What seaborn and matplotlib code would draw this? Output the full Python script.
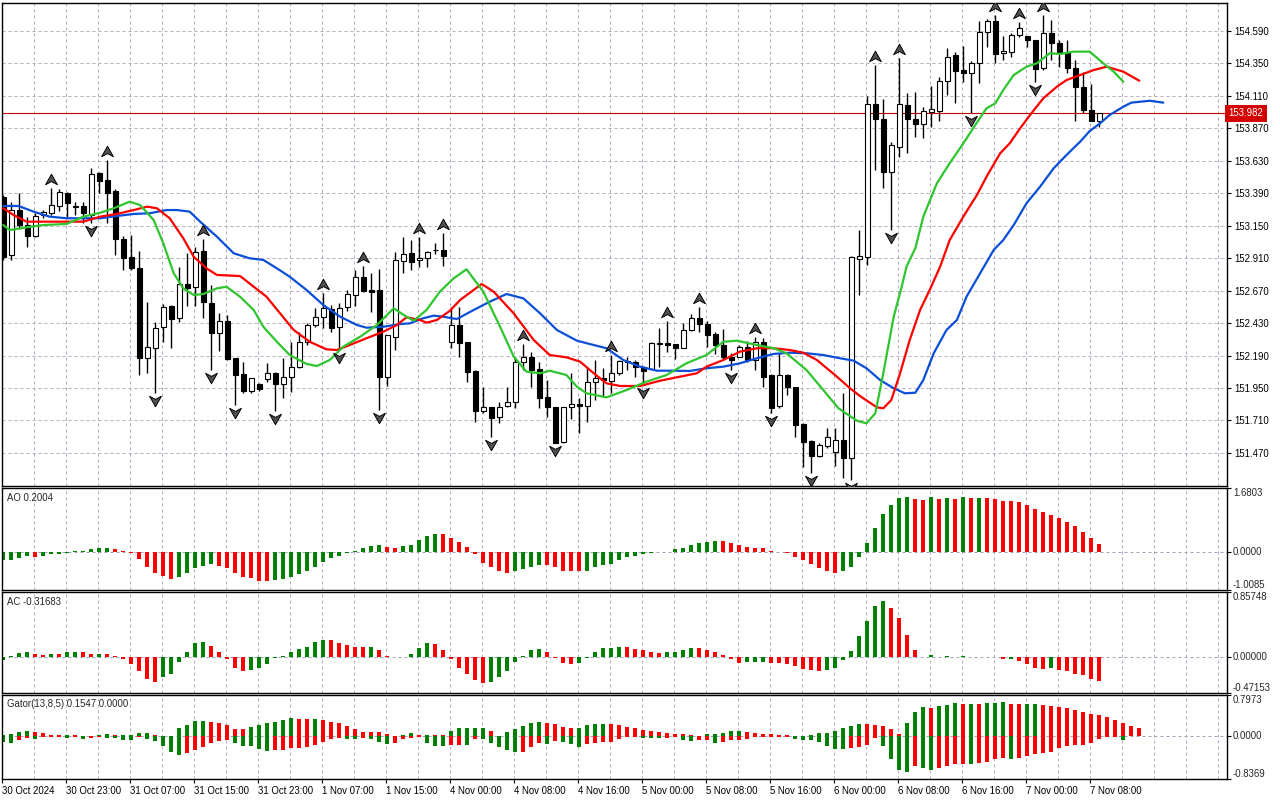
import matplotlib
matplotlib.use("Agg")
import numpy as np
import pandas as pd
import seaborn as sns
import matplotlib.pyplot as plt
from matplotlib.path import Path
from matplotlib import transforms

# ---------------- data (H1 bars) ----------------
open_ = [153.362, 152.934, 153.266, 153.155, 153.076, 153.229, 153.242, 153.296, 153.390, 153.291,
         153.298, 153.229, 153.538, 153.488, 153.407, 153.054, 152.921, 152.835, 152.170, 152.244,
         152.399, 152.559, 152.466, 152.717, 152.699, 152.963, 152.576, 152.355, 152.446, 152.170,
         152.051, 151.930, 151.978, 152.017, 152.059, 151.978, 152.029, 152.108, 152.292, 152.416,
         152.477, 152.532, 152.399, 152.547, 152.638, 152.773, 152.675, 152.675, 152.029, 152.325,
         152.891, 152.946, 152.897, 152.909, 152.971, 152.971, 152.292, 152.416, 152.288, 152.076,
         151.782, 151.807, 151.734, 151.817, 151.849, 152.145, 152.177, 152.088, 151.881, 151.807,
         151.553, 151.807, 151.832, 151.817, 151.992, 152.024, 152.004, 152.059, 152.145, 152.145,
         152.108, 152.091, 152.276, 152.281, 152.273, 152.248, 152.379, 152.466, 152.421, 152.347,
         152.268, 152.182, 152.182, 152.256, 152.157, 152.288, 152.046, 151.819, 152.046, 151.955,
         151.684, 151.561, 151.447, 151.521, 151.475, 151.566, 151.430, 152.902, 152.921, 154.048,
         153.939, 153.550, 153.734, 154.043, 153.939, 153.900, 153.993, 153.998, 154.220, 154.412,
         154.301, 154.281, 154.351, 154.580, 154.666, 154.425, 154.437, 154.560, 154.553, 154.523,
         154.314, 154.573, 154.503, 154.437, 154.314, 154.174, 154.006, 153.927]
high = [153.377, 153.325, 153.392, 153.217, 153.244, 153.266, 153.427, 153.422, 153.402, 153.328,
        153.328, 153.575, 153.550, 153.636, 153.422, 153.074, 153.081, 152.963, 152.584, 152.440,
        152.571, 152.563, 152.847, 152.946, 152.995, 153.052, 152.712, 152.502, 152.490, 152.175,
        152.145, 152.024, 151.987, 152.137, 152.065, 152.170, 152.292, 152.366, 152.429, 152.539,
        152.650, 152.564, 152.576, 152.675, 152.823, 152.852, 152.798, 152.828, 152.345, 152.958,
        153.064, 153.044, 153.069, 152.962, 153.020, 153.094, 152.551, 152.547, 152.292, 152.080,
        151.960, 151.810, 151.849, 151.960, 152.182, 152.273, 152.219, 152.145, 152.009, 151.810,
        151.810, 152.059, 151.874, 152.108, 152.157, 152.098, 152.194, 152.155, 152.182, 152.157,
        152.112, 152.292, 152.392, 152.446, 152.276, 152.429, 152.495, 152.547, 152.446, 152.362,
        152.384, 152.211, 152.268, 152.300, 152.329, 152.318, 152.050, 152.207, 152.050, 151.960,
        151.688, 151.565, 151.546, 151.652, 151.652, 151.911, 152.925, 153.118, 154.109, 154.338,
        154.087, 153.771, 154.388, 154.129, 154.141, 154.030, 154.183, 154.247, 154.462, 154.437,
        154.479, 154.368, 154.664, 154.679, 154.708, 154.553, 154.577, 154.659, 154.556, 154.526,
        154.708, 154.671, 154.523, 154.523, 154.375, 154.289, 154.198, 153.985]
low = [152.897, 152.897, 153.126, 152.995, 153.067, 153.207, 153.229, 153.261, 153.207, 153.229,
       153.170, 153.168, 153.390, 153.168, 152.934, 152.823, 152.823, 152.046, 152.059, 151.911,
       152.292, 152.244, 152.440, 152.559, 152.559, 152.466, 152.083, 152.226, 152.157, 151.824,
       151.911, 151.913, 151.928, 151.997, 151.782, 151.874, 151.923, 152.100, 152.268, 152.403,
       152.392, 152.366, 152.231, 152.522, 152.559, 152.662, 152.514, 151.787, 151.967, 152.231,
       152.798, 152.823, 152.847, 152.847, 152.941, 152.852, 152.244, 152.182, 151.997, 151.701,
       151.768, 151.590, 151.689, 151.812, 151.800, 152.083, 151.960, 151.800, 151.738, 151.541,
       151.543, 151.719, 151.620, 151.701, 151.861, 151.886, 151.911, 152.046, 152.083, 152.034,
       151.972, 152.088, 152.108, 152.219, 152.162, 152.244, 152.372, 152.366, 152.256, 152.202,
       152.157, 152.083, 152.177, 152.145, 152.083, 151.960, 151.768, 151.800, 151.898, 151.590,
       151.368, 151.319, 151.442, 151.504, 151.373, 151.283, 151.270, 152.638, 152.860, 153.562,
       153.427, 153.118, 153.660, 153.690, 153.808, 153.796, 153.878, 153.927, 154.117, 154.060,
       154.215, 153.981, 154.208, 154.474, 154.351, 154.375, 154.395, 154.548, 154.474, 154.215,
       154.301, 154.375, 154.326, 154.277, 153.927, 153.981, 153.922, 153.882]
close = [152.919, 153.266, 153.155, 153.076, 153.224, 153.251, 153.303, 153.397, 153.316, 153.294,
         153.242, 153.530, 153.483, 153.394, 153.050, 152.914, 152.835, 152.170, 152.251, 152.396,
         152.547, 152.458, 152.717, 152.687, 152.958, 152.584, 152.355, 152.446, 152.162, 152.046,
         151.930, 152.022, 151.943, 152.059, 151.978, 152.029, 152.108, 152.292, 152.416, 152.477,
         152.539, 152.392, 152.544, 152.645, 152.773, 152.670, 152.662, 152.034, 152.342, 152.897,
         152.939, 152.884, 152.914, 152.958, 152.967, 152.928, 152.416, 152.285, 152.066, 151.782,
         151.807, 151.731, 151.812, 151.844, 152.145, 152.177, 152.083, 151.878, 151.807, 151.546,
         151.807, 151.832, 151.817, 151.992, 152.022, 152.009, 152.059, 152.150, 152.148, 152.108,
         152.078, 152.281, 152.279, 152.268, 152.248, 152.379, 152.466, 152.421, 152.342, 152.268,
         152.177, 152.157, 152.251, 152.157, 152.292, 152.034, 151.800, 152.046, 151.955, 151.677,
         151.553, 151.447, 151.529, 151.590, 151.566, 151.430, 152.916, 152.926, 154.048, 153.937,
         153.550, 153.747, 154.048, 153.937, 153.900, 153.998, 154.011, 154.220, 154.400, 154.296,
         154.281, 154.351, 154.580, 154.666, 154.420, 154.442, 154.560, 154.610, 154.523, 154.307,
         154.573, 154.503, 154.437, 154.314, 154.174, 154.006, 153.927, 153.982]
last_price = 153.982

fractal_up = [6, 13, 25, 40, 45, 52, 55, 65, 76, 83, 87, 94, 109, 112, 124, 127, 130]
fractal_down = [11, 19, 26, 29, 34, 42, 47, 61, 69, 80, 91, 96, 101, 106, 111, 121, 129]

# Alligator lines (bar position, price)
jaw_bar = [0, 1.9, 3.8, 5.8, 7.9, 10, 12.1, 14.2, 16.3, 18.3, 20.4, 21.7, 23.3, 24.6, 26.7, 28.8, 30.8,
           32.5, 34.2, 35.8, 37.9, 40, 42.1, 44.2, 45.4, 47.5, 49.6, 50.8, 52.5, 53.8, 55, 56.7, 58.8,
           60.8, 62.9, 65, 67.1, 69.2, 71.7, 73.8, 75.4, 77.5, 79.6, 81.7, 83.8, 85.8, 87.9, 90, 92.1,
           94.2, 96.3, 98.3, 100.4, 102.5, 104.6, 106.3, 107.9, 109.6, 111.3, 112.7, 114, 115, 116.3,
           117.9, 119.2, 120.4, 122.1, 123.8, 125, 126.3, 127.9, 129.6, 131.3, 132.9, 134.6, 135.8,
           137.1, 138.3, 140, 141, 143.3, 145]
jaw_price = [153.296, 153.296, 153.254, 153.217, 153.205, 153.205, 153.205, 153.222, 153.237, 153.242,
             153.266, 153.266, 153.254, 153.180, 153.069, 152.946, 152.909, 152.897, 152.835, 152.773,
             152.675, 152.564, 152.477, 152.416, 152.396, 152.403, 152.423, 152.428, 152.466, 152.485,
             152.477, 152.460, 152.527, 152.588, 152.645, 152.613, 152.502, 152.379, 152.300, 152.268,
             152.244, 152.157, 152.108, 152.078, 152.078, 152.076, 152.096, 152.108, 152.133, 152.170,
             152.202, 152.211, 152.207, 152.194, 152.170, 152.152, 152.096, 152.009, 151.948, 151.911,
             151.915, 152.009, 152.207, 152.379, 152.453, 152.625, 152.798, 152.971, 153.044, 153.155,
             153.316, 153.439, 153.575, 153.673, 153.771, 153.850, 153.907, 153.969, 154.030, 154.060,
             154.074, 154.060]
teeth_bar = [0, 1.3, 2.9, 5, 7.9, 10, 12.1, 14.2, 16.3, 18, 19.2, 20.8, 22.5, 23.8, 25.4, 26.7, 29.6,
             31.3, 32.9, 34.6, 36.3, 38.3, 40.4, 41.7, 43.3, 45.4, 47.5, 49.2, 50.4, 52.1, 52.9, 54.2,
             55.8, 57.1, 59.8, 61.3, 63.8, 66.3, 68.3, 70.4, 72.1, 73.8, 75.4, 77.1, 79.6, 82.1, 84.6,
             86.7, 87.9, 90, 92.1, 94.2, 96.3, 98.3, 100, 101.7, 104.2, 105.8, 107.1, 109.2, 110, 111,
             112.1, 113.3, 114.6, 115.8, 117.1, 118.3, 120, 121.7, 122.9, 124.6, 125.8, 127.1, 128.5,
             130, 131.7, 132.9, 134.6, 136.3, 137.9, 140, 142]
teeth_price = [153.279, 153.229, 153.180, 153.180, 153.180, 153.180, 153.217, 153.237, 153.266, 153.291,
               153.279, 153.205, 153.057, 152.921, 152.835, 152.786, 152.778, 152.699, 152.625, 152.502,
               152.379, 152.292, 152.236, 152.231, 152.268, 152.318, 152.366, 152.416, 152.473, 152.453,
               152.433, 152.453, 152.520, 152.601, 152.719, 152.662, 152.502, 152.305, 152.194, 152.177,
               152.145, 152.059, 151.985, 151.965, 151.965, 152.004, 152.034, 152.059, 152.108, 152.157,
               152.219, 152.244, 152.244, 152.231, 152.211, 152.157, 152.034, 151.950, 151.890, 151.807,
               151.800, 151.861, 152.059, 152.305, 152.527, 152.675, 152.847, 153.044, 153.217, 153.377,
               153.512, 153.685, 153.759, 153.870, 153.981, 154.092, 154.178, 154.227, 154.264, 154.301,
               154.326, 154.289, 154.222]
lips_bar = [0, 0.8, 2.9, 5, 7.9, 10, 12.1, 13.8, 15.8, 17.1, 18.8, 20, 21.3, 22.5, 23.8, 25, 26.7, 27.9,
            29.6, 31.3, 32.5, 34.2, 35.8, 37.9, 39.2, 40.8, 42.5, 44.6, 46.7, 48.8, 50.4, 51.3, 52.9,
            54.6, 56.3, 57.9, 60, 62.1, 63.8, 65.4, 67.1, 68.3, 70.4, 71.7, 72.9, 75.4, 77.9, 80.4, 82.9,
            85.4, 87.9, 90, 91.7, 94.2, 96.3, 97.9, 100.4, 102.5, 104.4, 106.7, 107.9, 109, 110, 111.3,
            112.3, 112.9, 114, 115, 116.7, 118.3, 120, 121.5, 122.9, 124, 125, 126.3, 127.9, 129.2,
            130.8, 132.1, 133.8, 135.8, 137.5, 138.8, 140]
lips_price = [153.155, 153.118, 153.138, 153.155, 153.163, 153.217, 153.246, 153.279, 153.328, 153.303,
              153.192, 153.020, 152.798, 152.687, 152.638, 152.645, 152.687, 152.699, 152.625, 152.527,
              152.403, 152.292, 152.194, 152.128, 152.113, 152.157, 152.256, 152.329, 152.416, 152.539,
              152.477, 152.448, 152.527, 152.665, 152.761, 152.828, 152.662, 152.403, 152.182, 152.071,
              152.059, 152.078, 152.046, 151.960, 151.911, 151.881, 151.935, 151.997, 152.046, 152.133,
              152.194, 152.292, 152.300, 152.268, 152.244, 152.207, 152.083, 151.935, 151.800, 151.708,
              151.689, 151.763, 152.059, 152.477, 152.699, 152.847, 152.983, 153.217, 153.464, 153.612,
              153.759, 153.895, 154.018, 154.055, 154.154, 154.264, 154.326, 154.351, 154.425, 154.420,
              154.437, 154.437, 154.351, 154.289, 154.215]

ao = [-0.23, -0.22, -0.17, -0.11, -0.15, -0.11, -0.07, -0.065, -0.02, 0.02,
      0.03, 0.06, 0.09, 0.095, 0.08, 0.03, -0.04, -0.20, -0.39, -0.57,
      -0.65, -0.72, -0.67, -0.57, -0.43, -0.37, -0.33, -0.37, -0.42, -0.55,
      -0.67, -0.70, -0.76, -0.78, -0.74, -0.72, -0.67, -0.59, -0.52, -0.39,
      -0.26, -0.17, -0.10, -0.02, 0.03, 0.09, 0.16, 0.19, 0.13, 0.10,
      0.16, 0.19, 0.32, 0.42, 0.47, 0.46, 0.37, 0.26, 0.13, -0.07,
      -0.29, -0.39, -0.50, -0.55, -0.52, -0.46, -0.39, -0.35, -0.36, -0.39,
      -0.50, -0.505, -0.52, -0.51, -0.41, -0.35, -0.31, -0.23, -0.15, -0.11,
      -0.06, -0.04, -0.01, -0.005, 0.06, 0.10, 0.17, 0.23, 0.26, 0.29,
      0.28, 0.23, 0.17, 0.13, 0.10, 0.09, 0.03, -0.01, -0.04, -0.13,
      -0.23, -0.31, -0.42, -0.50, -0.55, -0.52, -0.39, -0.13, 0.22, 0.63,
      1.00, 1.23, 1.41, 1.43, 1.38, 1.37, 1.43, 1.38, 1.41, 1.40,
      1.43, 1.41, 1.42, 1.41, 1.40, 1.35, 1.34, 1.30, 1.22, 1.13,
      1.06, 0.98, 0.89, 0.78, 0.67, 0.52, 0.37, 0.2004]
ac = [-0.04, 0.01, 0.05, 0.066, 0.04, 0.027, 0.04, 0.039, 0.066, 0.067,
      0.065, 0.04, 0.041, 0.039, 0.013, -0.03, -0.09, -0.19, -0.29, -0.33,
      -0.27, -0.22, -0.07, 0.07, 0.18, 0.20, 0.15, 0.06, -0.03, -0.14,
      -0.19, -0.17, -0.14, -0.09, -0.01, 0.01, 0.07, 0.10, 0.13, 0.20,
      0.22, 0.219, 0.19, 0.16, 0.13, 0.129, 0.131, 0.09, 0.01, 0.0,
      0.002, 0.035, 0.12, 0.18, 0.17, 0.09, -0.03, -0.14, -0.22, -0.30,
      -0.35, -0.33, -0.27, -0.18, -0.07, 0.01, 0.09, 0.105, 0.066, -0.01,
      -0.085, -0.09, -0.075, -0.02, 0.066, 0.12, 0.121, 0.13, 0.128, 0.105,
      0.09, 0.066, 0.05, 0.066, 0.067, 0.09, 0.12, 0.118, 0.09, 0.066,
      0.027, -0.03, -0.075, -0.072, -0.07, -0.068, -0.075, -0.085, -0.087, -0.12,
      -0.16, -0.176, -0.18, -0.17, -0.14, -0.04, 0.08, 0.28, 0.47, 0.67,
      0.74, 0.64, 0.51, 0.29, 0.09, 0.003, 0.02, 0.002, 0.01, -0.003,
      0.008, -0.004, 0.0, -0.005, -0.006, -0.03, -0.028, -0.05, -0.09, -0.14,
      -0.155, -0.15, -0.17, -0.185, -0.22, -0.24, -0.29, -0.31683]
gator_up = [0.03, 0.035, 0.08, 0.10, 0.08, 0.06, 0.03, 0.028, 0.032, 0.02,
            0.012, 0.013, 0.025, 0.04, 0.025, 0.03, 0.032, 0.06, 0.061, 0.03,
            0.005, 0.003, 0.16, 0.21, 0.30, 0.305, 0.285, 0.25, 0.21, 0.15,
            0.14, 0.175, 0.21, 0.25, 0.285, 0.31, 0.35, 0.33, 0.329, 0.332,
            0.31, 0.285, 0.25, 0.195, 0.14, 0.085, 0.078, 0.075, 0.04, 0.015,
            0.03, 0.06, 0.025, 0.03, 0.029, 0.028, 0.11, 0.155, 0.156, 0.157,
            0.158, 0.10, 0.01, 0.08, 0.14, 0.195, 0.25, 0.27, 0.25, 0.23,
            0.175, 0.155, 0.157, 0.21, 0.23, 0.232, 0.23, 0.21, 0.175, 0.155,
            0.115, 0.10, 0.08, 0.06, 0.04, 0.039, 0.025, 0.01, 0.04, 0.041,
            0.06, 0.10, 0.101, 0.08, 0.06, 0.04, 0.039, 0.02, 0.019, 0.015,
            0.01, 0.02, 0.06, 0.061, 0.10, 0.156, 0.195, 0.233, 0.232, 0.214,
            0.195, 0.136, 0.039, 0.253, 0.467, 0.564, 0.545, 0.584, 0.603, 0.642,
            0.623, 0.624, 0.622, 0.642, 0.643, 0.661, 0.623, 0.622, 0.624, 0.625,
            0.603, 0.584, 0.564, 0.545, 0.506, 0.467, 0.428, 0.409, 0.37, 0.311,
            0.253, 0.195, 0.1547]
gator_down = [0.12, 0.13, 0.08, 0.03, 0.05, 0.013, 0.012, 0.011, 0.03, 0.013,
              0.05, 0.03, 0.02, 0.03, 0.032, 0.08, 0.081, 0.013, 0.05, 0.10,
              0.19, 0.31, 0.36, 0.32, 0.27, 0.21, 0.14, 0.10, 0.08, 0.14,
              0.19, 0.195, 0.25, 0.29, 0.27, 0.269, 0.23, 0.229, 0.21, 0.175,
              0.12, 0.06, 0.04, 0.045, 0.046, 0.04, 0.05, 0.12, 0.15, 0.13,
              0.05, 0.03, 0.02, 0.13, 0.19, 0.195, 0.175, 0.174, 0.176, 0.05,
              0.051, 0.13, 0.21, 0.27, 0.31, 0.309, 0.21, 0.14, 0.141, 0.10,
              0.12, 0.155, 0.21, 0.155, 0.14, 0.12, 0.119, 0.06, 0.02, 0.019,
              0.03, 0.031, 0.032, 0.03, 0.013, 0.08, 0.10, 0.08, 0.079, 0.13,
              0.12, 0.08, 0.079, 0.06, 0.013, 0.012, 0.011, 0.010, 0.009, 0.05,
              0.08, 0.081, 0.12, 0.195, 0.24, 0.246, 0.227, 0.207, 0.169, 0.03,
              0.188, 0.441, 0.655, 0.694, 0.577, 0.616, 0.655, 0.616, 0.577, 0.538,
              0.537, 0.539, 0.519, 0.499, 0.447, 0.42, 0.448, 0.415, 0.383, 0.344,
              0.324, 0.305, 0.227, 0.188, 0.169, 0.168, 0.13, 0.052, 0.02, 0.006,
              0.071]

price_ticks = [151.470, 151.710, 151.950, 152.190, 152.430, 152.670, 152.910, 153.150,
               153.390, 153.630, 153.870, 154.110, 154.350, 154.590]
ao_ticks = [-1.0085, 0.0, 1.6803]
ac_ticks = [-0.47153, 0.0, 0.85748]
gator_ticks = [-0.8369, 0.0, 0.7973]
time_label_bars = [0, 8, 16, 24, 32, 40, 48, 56, 64, 72, 80, 88, 96, 104, 112, 120, 128, 136]
time_labels = ['30 Oct 2024', '30 Oct 23:00', '31 Oct 07:00', '31 Oct 15:00', '31 Oct 23:00',
               '1 Nov 07:00', '1 Nov 15:00', '4 Nov 00:00', '4 Nov 08:00', '4 Nov 16:00',
               '5 Nov 00:00', '5 Nov 08:00', '5 Nov 16:00', '6 Nov 00:00', '6 Nov 08:00',
               '6 Nov 16:00', '7 Nov 00:00', '7 Nov 08:00']

# ---------------- style ----------------
sns.set_theme(style="white")
plt.rcParams["font.family"] = ["Liberation Sans", "DejaVu Sans"]
FS = 6.9
GREEN, RED = "#008000", "#ff0000"
GRID = "#b9a9bd"
ZERO = "#9aa6b8"
W, H = 1280, 800

fig = plt.figure(figsize=(12.8, 8), dpi=100)
fig.patch.set_facecolor("white")


def rect(top, bottom, left=2.3, right=1226.7):
    return [left / W, 1 - bottom / H, (right - left) / W, (bottom - top) / H]


ax = fig.add_axes(rect(2.5, 486))
ax_ao = fig.add_axes(rect(488, 590))
ax_ac = fig.add_axes(rect(592, 692.7))
ax_g = fig.add_axes(rect(695.3, 779.3))
axes = [ax, ax_ao, ax_ac, ax_g]

XMIN, XMAX = -0.125, 152.925
vgrid = np.arange(4, 153, 4) - 0.125
for a in axes:
    a.set_facecolor("white")
    a.set_xlim(XMIN, XMAX)
    for s in a.spines.values():
        s.set_color("black")
        s.set_linewidth(1.0)
    a.yaxis.tick_right()
    a.tick_params(axis="y", which="both", direction="out", length=2.9, width=0.8,
                  pad=2.8, labelsize=FS, colors="black", right=True, left=False)
    for xv in vgrid:
        a.axvline(xv, color=GRID, lw=0.72, ls=(0, (3, 3)), zorder=0)
for a in axes[:3]:
    a.tick_params(axis="x", bottom=False, labelbottom=False)

# ---------------- main price panel ----------------
df = pd.DataFrame({"open": open_, "high": high, "low": low, "close": close})
df["bar"] = np.arange(len(df))
ax.set_ylim(151.2255, 154.8005)
for yv in price_ticks:
    ax.axhline(yv, color=GRID, lw=0.72, ls=(0, (3, 3)), zorder=0)

ax.vlines(df["bar"], df["low"], df["high"], color="black", lw=1.0, zorder=2)
body_lo = np.minimum(df["open"], df["close"])
body_h = np.maximum((df["close"] - df["open"]).abs(), 0.004)
body_col = np.where(df["close"] >= df["open"], "white", "black")
ax.bar(df["bar"], body_h, bottom=body_lo, width=0.62, color=body_col,
       edgecolor="black", linewidth=0.8, zorder=3)

ax.axhline(last_price, color="#c00000", lw=0.8, zorder=2.5)

sns.lineplot(x=jaw_bar, y=jaw_price, ax=ax, color="#0b4fd8", lw=1.6, zorder=4, estimator=None)
sns.lineplot(x=teeth_bar, y=teeth_price, ax=ax, color="#ff0000", lw=1.6, zorder=4, estimator=None)
sns.lineplot(x=lips_bar, y=lips_price, ax=ax, color="#2ec52e", lw=1.6, zorder=4, estimator=None)

up_path = Path([(0, 0.75), (0.85, -0.75), (0, -0.3), (-0.85, -0.75), (0, 0.75)],
               [Path.MOVETO, Path.LINETO, Path.LINETO, Path.LINETO, Path.CLOSEPOLY])
down_path = Path([(0, -0.75), (0.85, 0.75), (0, 0.3), (-0.85, 0.75), (0, -0.75)],
                 [Path.MOVETO, Path.LINETO, Path.LINETO, Path.LINETO, Path.CLOSEPOLY])
up_tr = transforms.offset_copy(ax.transData, fig=fig, x=0, y=9, units="dots")
dn_tr = transforms.offset_copy(ax.transData, fig=fig, x=0, y=-8, units="dots")
ax.plot(fractal_up, [high[i] for i in fractal_up], ls="none", marker=up_path, ms=8.5,
        mfc="#505050", mec="black", mew=0.7, transform=up_tr, zorder=5)
ax.plot(fractal_down, [low[i] for i in fractal_down], ls="none", marker=down_path, ms=8.5,
        mfc="#505050", mec="black", mew=0.7, transform=dn_tr, zorder=5)

ax.set_yticks(price_ticks)
ax.set_yticklabels([f"{v:.3f}" for v in price_ticks])
ax.set_xlabel("")
ax.set_ylabel("")
ax.text(1.0016, last_price, f"{last_price:.3f}", color="white", fontsize=FS, ha="left",
        va="center", transform=transforms.blended_transform_factory(ax.transAxes, ax.transData),
        bbox=dict(boxstyle="square,pad=0.35", fc="#d40000", ec="none"), zorder=6, clip_on=False)


def up_down_colors(vals):
    cols = [GREEN]
    for i in range(1, len(vals)):
        cols.append(GREEN if vals[i] > vals[i - 1] else RED)
    return cols


def right_labels(a, ticks, fmt):
    a.set_yticks(ticks)
    a.set_yticklabels([])
    tr = transforms.blended_transform_factory(a.transAxes, a.transData)
    for k, v in enumerate(ticks):
        va = "bottom" if k == 0 else ("top" if k == len(ticks) - 1 else "center")
        a.text(1.005, v, fmt.format(v), transform=tr, fontsize=FS, ha="left", va=va,
               clip_on=False)


# ---------------- AO ----------------
ao_x = np.arange(len(ao))
ax_ao.set_ylim(ao_ticks[0], ao_ticks[-1])
ax_ao.axhline(0, color=ZERO, lw=0.72, ls=(0, (3, 3)), zorder=0)
ax_ao.bar(ao_x, ao, width=0.52, color=up_down_colors(ao), linewidth=0, zorder=2)
right_labels(ax_ao, ao_ticks, "{:.4f}")
ax_ao.text(0.004, 0.955, "AO 0.2004", transform=ax_ao.transAxes, fontsize=FS, va="top", ha="left")

# ---------------- AC ----------------
ac_x = np.arange(len(ac))
ax_ac.set_ylim(ac_ticks[0], ac_ticks[-1])
ax_ac.axhline(0, color=ZERO, lw=0.72, ls=(0, (3, 3)), zorder=0)
ax_ac.bar(ac_x, ac, width=0.52, color=up_down_colors(ac), linewidth=0, zorder=2)
right_labels(ax_ac, ac_ticks, "{:.5f}")
ax_ac.text(0.004, 0.955, "AC -0.31683", transform=ax_ac.transAxes, fontsize=FS, va="top", ha="left")

# ---------------- Gator ----------------
gu_x = np.arange(len(gator_up))
gd_x = np.arange(len(gator_down))
ax_g.set_ylim(gator_ticks[0], gator_ticks[-1])
ax_g.axhline(0, color=ZERO, lw=0.72, ls=(0, (3, 3)), zorder=0)
ax_g.bar(gu_x, gator_up, width=0.52, color=up_down_colors(gator_up), linewidth=0, zorder=2)
ax_g.bar(gd_x, [-v for v in gator_down], width=0.52, color=up_down_colors(gator_down),
         linewidth=0, zorder=2)
right_labels(ax_g, gator_ticks, "{:.4f}")
ax_g.text(0.004, 0.955, "Gator(13,8,5) 0.1547 0.0000", transform=ax_g.transAxes, fontsize=FS,
          va="top", ha="left")

ax_g.set_xticks([b - 0.125 for b in time_label_bars])
ax_g.set_xticklabels(time_labels, ha="left", fontsize=FS)
ax_g.tick_params(axis="x", bottom=True, direction="out", length=2.9, width=0.8, pad=2.0,
                 labelsize=FS, colors="black")

fig.savefig("out.png", dpi=100, facecolor="white")
